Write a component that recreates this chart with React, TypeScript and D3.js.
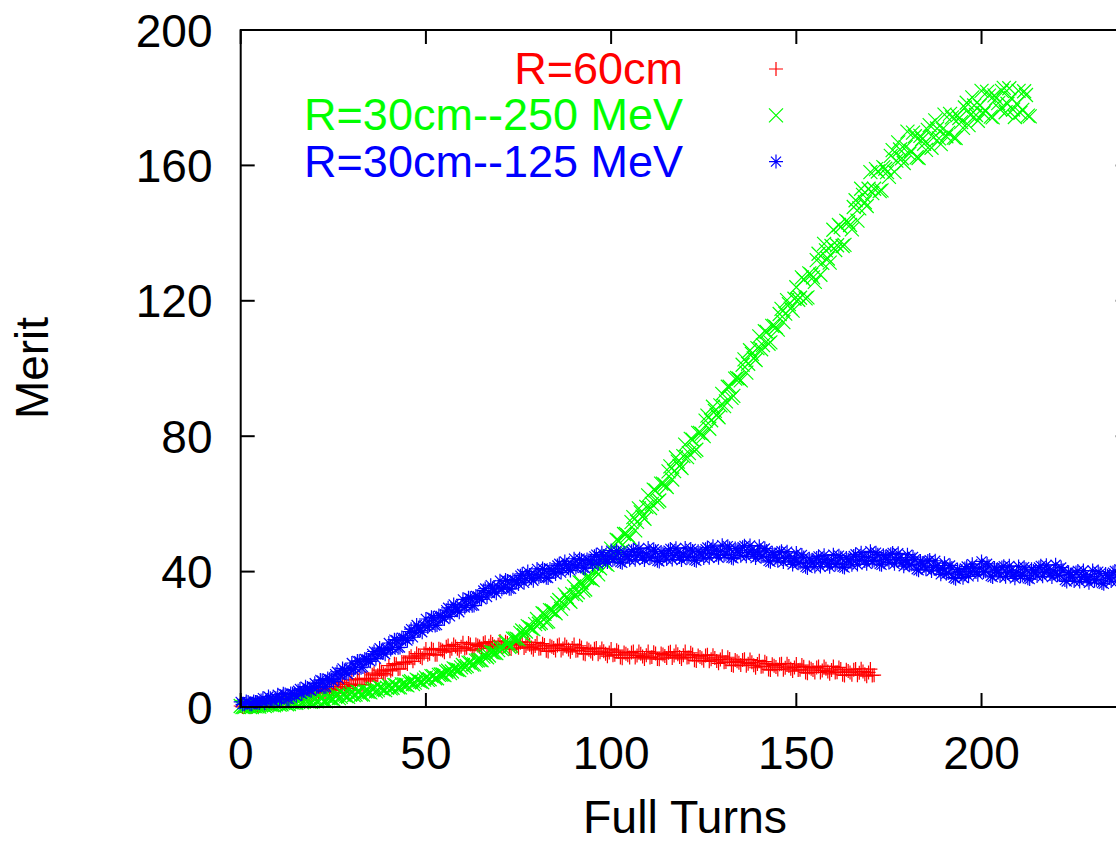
import React from "react";
import * as d3 from "d3";

// Merit read at each full turn (index = turn number)
const meritR60: number[] = [
  0.3, 0.0, 0.4, 0.0, 0.4, 0.3, 1.0, 0.9, 1.2, 1.1,
  1.8, 1.6, 2.4, 1.6, 2.6, 2.3, 3.7, 3.3, 3.8, 3.3,
  4.9, 4.3, 5.1, 4.3, 5.3, 5.0, 6.8, 5.9, 6.7, 5.5,
  8.0, 6.7, 8.1, 6.6, 8.4, 7.7, 10.0, 9.4, 10.4, 9.5,
  12.2, 11.1, 12.6, 11.3, 13.2, 12.7, 15.0, 14.4, 15.3, 14.4,
  17.1, 15.7, 16.9, 15.4, 17.0, 16.2, 18.2, 17.2, 17.9, 16.6,
  19.0, 17.5, 18.5, 16.8, 18.2, 17.3, 19.1, 18.1, 18.6, 17.3,
  19.5, 17.9, 18.9, 17.1, 18.5, 17.5, 19.2, 18.0, 18.4, 16.9,
  19.0, 17.3, 18.3, 16.4, 17.8, 16.7, 18.5, 17.3, 17.8, 16.3,
  18.5, 16.7, 17.6, 15.6, 16.9, 15.7, 17.4, 16.2, 16.5, 15.0,
  17.1, 15.4, 16.3, 14.4, 15.7, 14.6, 16.4, 15.2, 15.7, 14.2,
  16.4, 14.8, 15.8, 14.1, 15.5, 14.5, 16.3, 15.2, 15.6, 14.2,
  16.4, 14.7, 15.5, 13.6, 14.8, 13.7, 15.4, 14.1, 14.5, 12.9,
  15.0, 13.3, 14.2, 12.2, 13.5, 12.4, 14.1, 12.8, 13.2, 11.6,
  13.7, 12.0, 12.9, 10.9, 12.2, 11.1, 12.8, 11.6, 12.1, 10.6,
  12.7, 11.0, 11.9, 10.0, 11.3, 10.2, 12.0, 10.8, 11.3, 9.8,
  12.0, 10.3, 11.2, 9.3, 10.6, 9.5, 11.2, 10.1, 10.5, 9.1,
  11.2, 9.4,
];
// Merit read half a turn later (index i -> turn i + 0.5)
const meritR60Half: number[] = [
  0.0, 0.4, 0.0, 0.5, 0.4, 0.8, 0.6, 1.3, 1.1, 1.4,
  1.5, 2.5, 1.6, 2.7, 2.6, 3.4, 2.8, 4.2, 3.6, 4.2,
  4.0, 5.2, 4.3, 5.4, 5.3, 6.1, 5.1, 7.3, 6.0, 6.8,
  6.4, 8.3, 6.6, 8.5, 8.2, 9.5, 8.5, 10.9, 9.9, 10.9,
  10.7, 12.8, 11.2, 13.3, 13.1, 14.5, 13.5, 15.8, 14.8, 15.8,
  15.4, 17.2, 15.4, 17.2, 16.7, 17.8, 16.5, 18.5, 17.2, 17.8,
  17.3, 18.9, 16.9, 18.5, 17.9, 18.8, 17.4, 19.3, 17.9, 18.4,
  17.7, 19.3, 17.2, 18.8, 18.1, 19.0, 17.4, 19.2, 17.6, 18.0,
  17.2, 18.7, 16.6, 18.1, 17.4, 18.2, 16.7, 18.5, 17.0, 17.4,
  16.6, 18.1, 15.8, 17.3, 16.4, 17.2, 15.6, 17.3, 15.7, 16.1,
  15.3, 16.8, 14.6, 16.1, 15.3, 16.1, 14.6, 16.4, 14.9, 15.3,
  14.6, 16.2, 14.2, 15.8, 15.1, 16.0, 14.5, 16.4, 14.8, 15.3,
  14.6, 16.0, 13.8, 15.2, 14.4, 15.2, 13.5, 15.3, 13.6, 14.0,
  13.2, 14.7, 12.4, 13.9, 13.1, 13.9, 12.2, 14.0, 12.3, 12.7,
  11.9, 13.4, 11.1, 12.6, 11.8, 12.6, 11.0, 12.8, 11.3, 11.7,
  10.9, 12.4, 10.2, 11.7, 10.9, 11.7, 10.2, 12.0, 10.5, 10.9,
  10.2, 11.7, 9.5, 11.0, 10.2, 11.0, 9.4, 11.3, 9.7, 10.2,
  9.3,
];

const meritR30E250: number[] = [
  0.3, 0.0, 0.3, 0.0, 0.2, 0.1, 0.7, 0.5, 0.7, 0.5,
  1.1, 0.8, 1.2, 0.9, 1.3, 1.2, 1.8, 1.6, 1.7, 1.5,
  2.1, 1.8, 2.5, 1.7, 2.6, 2.3, 3.4, 3.0, 3.5, 3.0,
  4.3, 3.7, 4.4, 3.7, 4.6, 4.3, 5.4, 5.0, 5.5, 5.0,
  6.3, 5.7, 6.4, 5.8, 6.7, 6.4, 7.6, 7.2, 7.8, 7.3,
  8.7, 8.2, 9.1, 8.5, 9.6, 9.4, 10.7, 10.5, 11.2, 10.9,
  12.4, 12.1, 13.1, 12.6, 13.8, 13.8, 15.3, 15.2, 16.1, 15.9,
  17.6, 17.4, 19.1, 18.1, 20.2, 20.0, 22.6, 22.3, 23.6, 23.0,
  26.0, 24.9, 27.5, 25.3, 28.5, 27.7, 31.6, 30.6, 32.5, 31.1,
  35.6, 33.9, 36.7, 34.7, 38.1, 37.5, 41.7, 41.0, 43.1, 42.0,
  46.8, 45.2, 49.2, 46.1, 51.1, 50.0, 56.1, 54.7, 57.5, 55.6,
  62.5, 60.0, 64.0, 61.0, 66.0, 65.0, 71.1, 69.7, 72.5, 70.6,
  77.5, 75.0, 79.0, 76.0, 81.0, 80.0, 86.1, 84.7, 87.5, 85.6,
  92.5, 90.3, 94.6, 91.9, 97.2, 96.5, 102.7, 101.4, 104.3, 102.5,
  109.5, 106.9, 110.8, 107.7, 112.6, 111.5, 117.6, 116.2, 119.0, 117.1,
  124.0, 120.9, 126.3, 121.0, 127.7, 125.6, 133.9, 131.2, 134.9, 131.3,
  141.0, 136.4, 141.8, 136.5, 143.2, 141.1, 149.7, 147.3, 151.3, 148.0,
  158.0, 153.1, 158.2, 152.6, 159.0, 156.6, 164.5, 161.4, 164.7, 160.7,
  170.0, 164.3, 168.6, 162.2, 167.8, 164.6, 171.9, 168.2, 170.9, 166.3,
  175.0, 169.6, 174.2, 168.1, 174.0, 171.1, 178.5, 174.9, 177.7, 173.2,
  182.0, 176.3, 180.6, 174.2, 179.8, 176.6, 182.9, 178.2, 179.9, 174.3,
  182.0, 176.4, 180.8, 174.5,
];
const meritR30E250Half: number[] = [
  0.0, 0.3, 0.0, 0.3, 0.2, 0.6, 0.3, 0.9, 0.6, 0.8,
  0.7, 1.2, 0.8, 1.4, 1.3, 1.7, 1.4, 1.9, 1.6, 1.8,
  1.7, 2.6, 1.8, 2.6, 2.5, 3.2, 2.6, 3.8, 3.2, 3.7,
  3.5, 4.5, 3.7, 4.6, 4.5, 5.2, 4.6, 5.8, 5.2, 5.7,
  5.5, 6.5, 5.8, 6.7, 6.6, 7.4, 6.8, 8.1, 7.5, 8.1,
  8.0, 9.1, 8.5, 9.5, 9.6, 10.4, 10.0, 11.4, 11.0, 11.7,
  11.8, 13.1, 12.5, 13.7, 13.9, 14.9, 14.7, 16.2, 16.0, 16.8,
  17.1, 19.2, 17.8, 20.2, 20.2, 21.9, 21.2, 23.9, 23.2, 24.5,
  24.6, 27.7, 25.1, 28.6, 28.2, 30.7, 29.0, 33.2, 31.6, 33.4,
  33.1, 36.8, 34.4, 38.1, 37.9, 40.6, 39.2, 43.7, 42.3, 44.4,
  44.5, 49.4, 45.7, 51.1, 50.7, 54.6, 52.2, 58.7, 56.2, 59.1,
  58.8, 64.2, 60.6, 66.0, 65.7, 69.6, 67.2, 73.7, 71.2, 74.1,
  73.8, 79.2, 75.6, 81.0, 80.7, 84.6, 82.2, 88.7, 86.2, 89.1,
  88.9, 94.6, 91.3, 97.0, 97.0, 101.1, 98.8, 105.4, 103.0, 106.0,
  105.7, 111.0, 107.3, 112.6, 112.2, 116.1, 113.7, 120.2, 117.7, 120.6,
  120.3, 126.9, 120.7, 128.1, 126.9, 132.0, 127.7, 136.8, 132.5, 136.2,
  135.0, 142.4, 136.2, 143.6, 142.4, 147.7, 143.7, 153.1, 149.1, 153.1,
  151.8, 158.9, 152.4, 159.5, 158.0, 162.8, 158.1, 166.8, 162.1, 165.4,
  163.4, 169.7, 162.4, 168.7, 166.4, 170.5, 165.2, 173.3, 168.0, 170.7,
  168.6, 175.2, 168.2, 174.8, 172.8, 177.1, 171.9, 180.1, 174.9, 177.7,
  175.4, 181.7, 174.4, 180.7, 178.4, 182.0, 175.7, 182.8, 176.5, 178.2,
  175.5, 181.9, 174.7,
];

const meritR30E125: number[] = [
  1.5, 0.9, 1.5, 0.8, 1.5, 1.2, 2.6, 1.8, 2.6, 1.6,
  3.6, 2.5, 3.7, 2.4, 3.9, 3.3, 5.3, 4.7, 5.6, 4.8,
  7.0, 6.0, 7.8, 6.0, 8.2, 7.5, 10.4, 9.5, 10.8, 9.7,
  13.0, 11.6, 13.5, 11.8, 14.1, 13.5, 16.4, 15.5, 16.7, 15.6,
  18.9, 17.5, 19.7, 17.6, 20.4, 19.6, 23.0, 22.0, 23.4, 22.1,
  26.0, 24.2, 26.3, 24.2, 26.9, 26.0, 29.3, 28.1, 29.5, 28.0,
  31.8, 30.0, 32.1, 30.0, 32.7, 31.8, 35.0, 33.8, 35.1, 33.6,
  37.3, 35.3, 37.2, 34.9, 37.4, 36.3, 39.3, 37.9, 39.0, 37.3,
  40.8, 38.7, 40.5, 38.1, 40.5, 39.3, 42.3, 40.9, 42.0, 40.3,
  43.8, 41.7, 43.4, 41.0, 43.3, 42.1, 45.0, 43.5, 44.6, 42.8,
  46.2, 43.8, 45.6, 42.6, 45.0, 43.5, 46.5, 44.7, 45.6, 43.4,
  47.0, 44.3, 46.0, 43.0, 45.3, 43.7, 46.7, 44.8, 45.7, 43.4,
  47.0, 44.4, 46.1, 43.2, 45.5, 44.0, 47.1, 45.3, 46.3, 44.1,
  47.8, 45.1, 46.9, 43.9, 46.3, 44.7, 47.6, 45.6, 46.4, 44.0,
  47.5, 44.6, 46.1, 42.9, 45.0, 43.2, 46.0, 43.9, 44.6, 42.1,
  45.5, 42.7, 44.2, 41.1, 43.2, 41.5, 44.5, 42.7, 43.6, 41.4,
  45.0, 42.4, 44.1, 41.2, 43.5, 42.0, 45.1, 43.4, 44.4, 42.3,
  46.0, 43.3, 45.0, 42.0, 44.3, 42.7, 45.5, 43.4, 44.1, 41.6,
  45.0, 42.1, 43.6, 40.4, 42.5, 40.7, 43.4, 41.2, 41.8, 39.2,
  42.5, 39.6, 41.1, 37.9, 40.0, 38.2, 41.5, 39.9, 41.1, 39.1,
  43.0, 40.1, 41.6, 38.4, 40.5, 38.7, 41.6, 39.6, 40.4, 38.0,
  41.5, 38.9, 40.7, 37.8, 40.2, 38.7, 41.7, 39.8, 40.7, 38.4,
  42.0, 39.0, 40.4, 37.1, 39.1, 37.2, 40.2, 38.2, 39.1, 36.7,
  40.3, 37.6, 39.4, 36.4, 38.8, 37.2, 40.2, 38.3, 39.2, 36.9,
  40.5,
];
const meritR30E125Half: number[] = [
  0.8, 1.6, 0.8, 1.6, 1.4, 1.9, 1.1, 3.1, 1.9, 2.6,
  2.3, 3.9, 2.4, 4.0, 3.7, 4.8, 3.9, 6.0, 5.0, 5.9,
  5.8, 8.0, 5.9, 8.4, 8.0, 9.7, 8.3, 11.4, 10.1, 11.4,
  11.0, 13.6, 11.6, 14.2, 13.9, 15.7, 14.3, 17.4, 16.0, 17.3,
  17.0, 19.9, 17.5, 20.5, 20.1, 22.3, 20.6, 24.2, 22.6, 24.1,
  23.6, 26.5, 24.1, 27.0, 26.5, 28.6, 26.8, 30.3, 28.6, 29.9,
  29.4, 32.3, 29.9, 32.8, 32.3, 34.4, 32.5, 36.0, 34.2, 35.5,
  34.8, 37.5, 34.9, 37.6, 36.9, 38.8, 36.7, 40.0, 38.0, 39.1,
  38.3, 40.9, 38.2, 40.8, 40.0, 41.8, 39.7, 43.0, 41.0, 42.1,
  41.3, 43.8, 41.1, 43.6, 42.8, 44.5, 42.3, 45.6, 43.5, 44.5,
  43.6, 46.2, 42.8, 45.5, 44.4, 46.0, 43.5, 46.8, 44.3, 45.2,
  44.0, 46.6, 43.2, 45.8, 44.6, 46.2, 43.6, 46.9, 44.3, 45.2,
  44.1, 46.7, 43.4, 46.0, 44.9, 46.6, 44.1, 47.5, 45.0, 46.0,
  44.8, 47.5, 44.1, 46.8, 45.6, 47.2, 44.5, 47.7, 45.0, 45.8,
  44.4, 46.8, 43.2, 45.6, 44.2, 45.6, 42.8, 45.9, 43.1, 43.8,
  42.5, 44.9, 41.4, 43.8, 42.5, 44.0, 41.5, 44.8, 42.3, 43.2,
  42.1, 44.7, 41.4, 44.0, 42.9, 44.6, 42.1, 45.6, 43.1, 44.2,
  43.0, 45.6, 42.2, 44.8, 43.6, 45.1, 42.3, 45.4, 42.6, 43.3,
  41.9, 44.3, 40.7, 43.1, 41.7, 43.1, 40.2, 43.2, 40.3, 40.9,
  39.4, 41.8, 38.2, 40.6, 39.2, 40.9, 38.6, 42.2, 39.9, 41.1,
  39.9, 42.3, 38.7, 41.1, 39.7, 41.2, 38.5, 41.7, 39.0, 39.8,
  38.6, 41.3, 38.0, 40.7, 39.6, 41.2, 38.6, 41.9, 39.3, 40.2,
  38.9, 41.2, 37.5, 39.8, 38.3, 39.7, 37.1, 40.3, 37.7, 38.5,
  37.3, 40.0, 36.6, 39.3, 38.1, 39.7, 37.1, 40.4, 37.8, 38.7,
];

const xTicks = [0, 50, 100, 150, 200];
const yTicks = [0, 40, 80, 120, 160, 200];
const seriesLabels = ["R=60cm", "R=30cm--250 MeV", "R=30cm--125 MeV"];
const seriesColors = ["#ff0000", "#00ff00", "#0000ff"];
const seriesShapes = ["plus", "cross", "star"];
const seriesWhole = [meritR60, meritR30E250, meritR30E125];
const seriesHalf = [meritR60Half, meritR30E250Half, meritR30E125Half];

const FONT = "'Liberation Sans', Arial, Helvetica, sans-serif";

function markerPath(shape: string, s: number): string {
  const d = s * 0.72;
  const plus = `M${-s},0H${s}M0,${-s}V${s}`;
  const cross = `M${-s},${-s}L${s},${s}M${-s},${s}L${s},${-s}`;
  if (shape === "plus") return plus;
  if (shape === "cross") return cross;
  return `${plus}M${-d},${-d}L${d},${d}M${-d},${d}L${d},${-d}`;
}

export default function App() {
  const W = 1116;
  const H = 843;
  const x = d3.scaleLinear().domain([0, 240]).range([240.7, 1129.7]);
  const y = d3.scaleLinear().domain([0, 200]).range([707, 30]);
  const tick = 14;
  const [x0, x1] = x.range();
  const [yb, yt] = y.range();

  return (
    <svg
      width={W}
      height={H}
      style={{ position: "absolute", left: 0, top: 0, background: "#fff" }}
      fontFamily={FONT}
    >
      <rect x={0} y={0} width={W} height={H} fill="#fff" />
      {/* data */}
      {seriesWhole.map((vals, si) => {
        const p = markerPath(seriesShapes[si], 7);
        const half = seriesHalf[si];
        return (
          <g key={si} stroke={seriesColors[si]} strokeWidth={1.2} fill="none">
            {vals.map((v, i) => (
              <path key={"w" + i} d={p} transform={`translate(${x(i)},${y(v)})`} />
            ))}
            {half.map((v, i) => (
              <path key={"h" + i} d={p} transform={`translate(${x(i + 0.5)},${y(v)})`} />
            ))}
          </g>
        );
      })}
      {/* frame */}
      <g stroke="#000" strokeWidth={2} fill="none">
        <rect x={x0} y={yt} width={x1 - x0} height={yb - yt} />
        {xTicks.map((t) => (
          <g key={"xt" + t}>
            <line x1={x(t)} x2={x(t)} y1={yb} y2={yb - tick} />
            <line x1={x(t)} x2={x(t)} y1={yt} y2={yt + tick} />
          </g>
        ))}
        {yTicks.map((t) => (
          <g key={"yt" + t}>
            <line x1={x0} x2={x0 + tick} y1={y(t)} y2={y(t)} />
            <line x1={x1} x2={x1 - tick} y1={y(t)} y2={y(t)} />
          </g>
        ))}
      </g>
      {/* tick labels */}
      <g fontSize={46} fill="#000">
        {xTicks.map((t) => (
          <text key={"xl" + t} x={x(t)} y={769} textAnchor="middle">
            {t}
          </text>
        ))}
        {yTicks.map((t) => (
          <text key={"yl" + t} x={212.5} y={y(t) + 16.5} textAnchor="end">
            {t}
          </text>
        ))}
      </g>
      {/* axis titles */}
      <text x={685} y={833} fontSize={46.5} textAnchor="middle" fill="#000">
        Full Turns
      </text>
      <text
        transform="translate(48,368) rotate(-90)"
        fontSize={46}
        textAnchor="middle"
        fill="#000"
      >
        Merit
      </text>
      {/* legend */}
      {seriesLabels.map((lab, i) => (
        <g key={"lg" + i}>
          <text x={683} y={84 + i * 46.3} fontSize={45} textAnchor="end" fill={seriesColors[i]}>
            {lab}
          </text>
          <path
            d={markerPath(seriesShapes[i], 7)}
            transform={`translate(776,${69 + i * 46.3})`}
            stroke={seriesColors[i]}
            strokeWidth={1.2}
            fill="none"
          />
        </g>
      ))}
    </svg>
  );
}
